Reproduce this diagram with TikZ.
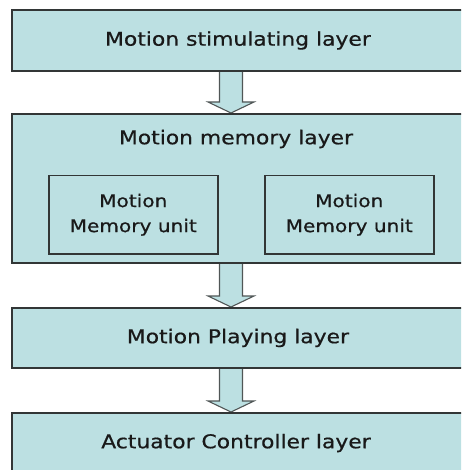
\documentclass[tikz,border=0pt]{standalone}
\usepackage{fontspec}
\setmainfont{DejaVu Sans}[FakeStretch=1.15,FakeBold=0.6]
\usetikzlibrary{calc,backgrounds}
\definecolor{layerfill}{RGB}{188,224,226}
\definecolor{edgegray}{RGB}{50,54,54}
\definecolor{arrowgray}{RGB}{80,86,86}
\begin{document}
\begin{tikzpicture}[x=1pt,y=-1pt,
  label/.style={font=\fontsize{19}{23}\selectfont, text=black!90},
  box/.style={rectangle, draw=edgegray, fill=layerfill, inner sep=0pt,
    anchor=north west, label},
  layer/.style={box, line width=1.9pt, minimum width=452},
  unit/.style={box, line width=1.5pt, minimum width=169, minimum height=78,
    align=center, font=\fontsize{17.5}{25}\selectfont},
  flow/.style={draw=arrowgray, line width=1.1pt, fill=layerfill, line join=miter}]
\useasboundingbox (0,0) rectangle (461,470);
\clip (0,0) rectangle (461,470);

% layers, top to bottom
\node[layer, minimum height=61] (stim) at (11,9) {Motion stimulating layer};
\node[layer, minimum height=149] (mem) at (11,113) {};
\node[label] (memtitle) at (236,139) {Motion memory layer};
\node[unit] (unitA) at (48,175) {Motion\\Memory unit};
\node[unit] (unitB) at (264,175) {Motion\\Memory unit};
\node[layer, minimum height=60] (play) at (11,307) {Motion Playing layer};
\node[layer, minimum height=66] (act) at (11,412) {};
\node[label] (acttitle) at (236,443) {Actuator Controller layer};

% hollow block arrows between layers
\newcommand{\flowarrow}[2]{%
  \path[flow] let \p1=(#1.south), \p2=(#2.north) in
    (219.5pt,\y1) -- (219.5pt,\y2+11pt) -- (208pt,\y2+11pt) -- (231pt,\y2)
    -- (254pt,\y2+11pt) -- (242.5pt,\y2+11pt) -- (242.5pt,\y1);}
\begin{scope}[on background layer]
  \flowarrow{stim}{mem}
  \flowarrow{mem}{play}
  \flowarrow{play}{act}
\end{scope}
\end{tikzpicture}
\end{document}
